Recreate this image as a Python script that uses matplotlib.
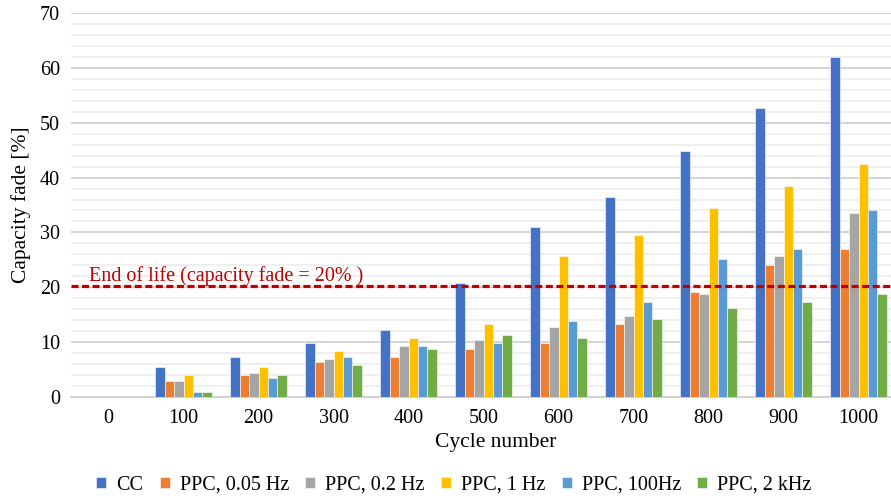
import numpy as np
import matplotlib
matplotlib.use("Agg")
import matplotlib.pyplot as plt
from matplotlib.ticker import MultipleLocator
from matplotlib.transforms import blended_transform_factory

plt.rcParams['font.family'] = ['Liberation Serif', 'DejaVu Serif']

cycles = ['0', '100', '200', '300', '400', '500', '600', '700', '800', '900', '1000']
series = ['CC', 'PPC, 0.05 Hz', 'PPC, 0.2 Hz', 'PPC, 1 Hz', 'PPC, 100Hz', 'PPC, 2 kHz']
cc      = [0, 5.4, 7.3, 9.8, 12.2, 20.7, 31.0, 36.4, 44.8, 52.7, 62.0]
ppc_005 = [0, 2.9, 3.9, 6.3, 7.3, 8.8, 9.8, 13.3, 19.2, 24.1, 27.0]
ppc_02  = [0, 2.9, 4.4, 6.8, 9.3, 10.3, 12.7, 14.7, 18.7, 25.6, 33.5]
ppc_1   = [0, 3.9, 5.4, 8.3, 10.8, 13.3, 25.6, 29.5, 34.4, 38.4, 42.4]
ppc_100 = [0, 0.9, 3.4, 7.3, 9.3, 9.8, 13.8, 17.2, 25.1, 27.0, 34.0]
ppc_2k  = [0, 0.9, 3.9, 5.8, 8.8, 11.3, 10.8, 14.2, 16.2, 17.2, 18.7]
eol = 20.2

colors = ['#4472C4', '#ED7D31', '#A5A5A5', '#FFC000', '#5B9BD5', '#70AD47']
data = [cc, ppc_005, ppc_02, ppc_1, ppc_100, ppc_2k]

fig = plt.figure(figsize=(8.91, 4.96), dpi=100)
ax = fig.add_axes([71/891, 99.3/496, 820/891, 383.4/496])

x = np.arange(len(cycles))
w = 0.126
for k, (vals, col, name) in enumerate(zip(data, colors, series)):
    ax.bar(x + (k - 2.5) * w, vals, w, color=col, label=name,
           edgecolor='white', linewidth=0.4, zorder=3)

ax.axhline(eol, color='#C00000', lw=2.3, ls=(0, (2.2, 1.1)), zorder=4)
ax.text(89/891, 21.2, 'End of life (capacity fade = 20% )', color='#C00000',
        fontsize=14.5, transform=blended_transform_factory(fig.transFigure, ax.transData),
        va='baseline', ha='left')

ax.set_xlim(-0.5, 10.433)
ax.set_ylim(0, 70)
ax.yaxis.set_major_locator(MultipleLocator(10))
ax.yaxis.set_minor_locator(MultipleLocator(2))
ax.grid(which='major', axis='y', color='#d4d4d4', lw=1.4, zorder=0)
ax.grid(which='minor', axis='y', color='#ececec', lw=1.2, zorder=0)
ax.set_xticks(x)
ax.set_xticklabels(cycles)
ax.tick_params(axis='both', which='both', length=0, labelsize=14.5)
ax.tick_params(axis='x', pad=9)
ax.tick_params(axis='y', pad=8)
for s in ['top', 'right', 'left']:
    ax.spines[s].set_visible(False)
ax.spines['bottom'].set_color('#d0d0d0')
ax.spines['bottom'].set_linewidth(1.4)

ax.set_ylabel('Capacity fade [%]', fontsize=15.5, labelpad=6)
fig.text(496/891, 1 - 443/496, 'Cycle number', fontsize=15.5, ha='center', va='center')

leg = fig.legend(loc='center', bbox_to_anchor=(454/891, 1 - 485/496), ncol=6,
                 frameon=False, fontsize=14.5, handlelength=0.5, handleheight=0.5,
                 handletextpad=0.5, columnspacing=0.8)

fig.savefig('out.png', dpi=100)
